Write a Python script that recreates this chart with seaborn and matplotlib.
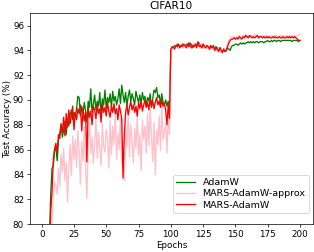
import numpy as np
import pandas as pd
import matplotlib
matplotlib.use("Agg")
import matplotlib.pyplot as plt
import seaborn as sns

epochs = list(range(1, 201))

adamw = [
    45.2, 58.7, 66.1, 71.5, 76.3, 79.1, 82.4, 84.5, 84.7, 85.9,
    86.2, 85.1, 86.8, 87.3, 88.1, 87.0, 87.6, 88.3, 87.2, 88.5,
    87.9, 88.8, 89.2, 88.4, 89.0, 88.6, 89.3, 90.3, 90.2, 88.7,
    89.5, 88.9, 89.8, 89.1, 88.2, 89.9, 89.4, 90.9, 89.0, 89.7,
    90.4, 89.2, 89.9, 89.5, 90.6, 88.8, 90.1, 89.6, 90.8, 89.3,
    90.2, 89.8, 90.5, 89.4, 90.7, 89.9, 90.3, 89.6, 90.1, 90.9,
    89.7, 91.2, 90.4, 89.8, 90.6, 89.5, 90.3, 90.8, 89.9, 90.5,
    90.1, 89.6, 90.7, 90.2, 89.8, 90.4, 89.7, 90.6, 90.0, 90.3,
    89.5, 90.2, 89.9, 90.5, 89.4, 90.1, 90.8, 90.6, 91.0, 90.2,
    90.4, 89.7, 90.5, 89.8, 89.6, 90.0, 89.5, 89.9, 89.3, 94.0,
    94.3, 94.2, 94.4, 94.3, 94.5, 94.2, 94.4, 94.3, 94.5, 94.4,
    94.3, 94.5, 94.4, 94.6, 94.3, 94.5, 94.2, 94.4, 94.3, 94.5,
    94.4, 94.6, 94.3, 94.2, 94.5, 94.3, 94.4, 94.2, 94.3, 94.1,
    94.3, 94.2, 94.4, 94.1, 94.3, 94.2, 94.0, 94.2, 94.1, 93.9,
    94.1, 93.9, 94.0, 94.2, 94.1, 94.0, 94.3, 94.4, 94.4, 94.5,
    94.5, 94.4, 94.5, 94.6, 94.5, 94.6, 94.5, 94.6, 94.6, 94.7,
    94.6, 94.7, 94.6, 94.7, 94.6, 94.7, 94.7, 94.6, 94.7, 94.7,
    94.7, 94.6, 94.7, 94.7, 94.8, 94.7, 94.7, 94.8, 94.7, 94.8,
    94.8, 94.7, 94.8, 94.8, 94.7, 94.8, 94.8, 94.8, 94.8, 94.8,
    94.8, 94.8, 94.8, 94.7, 94.8, 94.8, 94.8, 94.8, 94.7, 94.8,
]

mars_approx = [
    35.0, 50.1, 60.4, 68.2, 73.5, 77.1, 79.2, 80.4, 82.0, 83.4,
    83.1, 82.4, 84.5, 83.0, 85.6, 84.2, 86.1, 83.5, 85.0, 81.8,
    84.3, 86.4, 83.9, 87.1, 85.2, 86.8, 84.6, 87.5, 85.9, 83.2,
    86.7, 85.1, 87.8, 84.4, 82.1, 86.3, 88.2, 85.7, 87.0, 84.9,
    86.5, 88.6, 85.3, 87.4, 86.0, 84.7, 88.1, 86.2, 85.8, 87.6,
    86.9, 84.5, 88.3, 85.6, 87.9, 86.4, 89.1, 85.2, 87.3, 86.0,
    88.5, 84.8, 86.7, 83.5, 87.8, 86.2, 89.0, 85.4, 88.0, 86.6,
    84.9, 87.7, 86.1, 88.8, 85.5, 87.2, 84.3, 88.4, 86.8, 87.9,
    85.7, 88.9, 86.3, 89.3, 87.1, 85.0, 88.2, 84.0, 87.6, 86.4,
    88.7, 85.9, 89.5, 86.8, 87.4, 88.1, 85.7, 88.9, 87.2, 94.0,
    94.1, 94.3, 94.2, 94.4, 94.3, 94.2, 94.5, 94.3, 94.4, 94.2,
    94.5, 94.3, 94.4, 94.2, 94.5, 94.3, 94.4, 94.6, 94.3, 94.4,
    94.3, 94.5, 94.2, 94.4, 94.3, 94.1, 94.4, 94.2, 94.3, 94.0,
    94.2, 94.1, 94.3, 93.9, 94.1, 94.0, 94.2, 93.9, 94.1, 94.0,
    93.9, 94.1, 94.2, 94.5, 94.8, 95.0, 95.1, 95.0, 95.1, 95.0,
    95.1, 95.0, 95.2, 95.1, 95.0, 95.2, 95.1, 95.3, 95.1, 95.2,
    95.1, 95.2, 95.1, 95.2, 95.3, 95.1, 95.2, 95.1, 95.2, 95.1,
    95.2, 95.1, 95.2, 95.1, 95.2, 95.1, 95.1, 95.2, 95.1, 95.2,
    95.1, 95.2, 95.1, 95.1, 95.2, 95.1, 95.2, 95.1, 95.1, 95.2,
    95.1, 95.2, 95.1, 95.2, 95.1, 95.2, 95.1, 95.2, 95.2, 95.3,
]

mars = [
    40.5, 55.3, 64.8, 70.2, 75.9, 78.4, 81.0, 82.6, 85.2, 86.1,
    86.5, 85.8, 87.2, 86.9, 88.0, 87.4, 88.6, 87.1, 88.9, 87.8,
    89.2, 88.1, 88.7, 89.5, 87.6, 89.0, 88.4, 89.3, 88.9, 89.6,
    87.5, 89.2, 88.3, 89.0, 85.0, 89.4, 88.6, 89.1, 88.0, 89.5,
    89.2, 88.5, 89.6, 88.9, 89.3, 88.2, 89.7, 89.0, 89.4, 88.7,
    89.8, 89.1, 88.6, 89.5, 89.0, 89.7, 88.9, 89.3, 88.4, 89.6,
    89.1, 88.5, 83.7, 87.2, 89.0, 89.6, 88.8, 89.4, 89.9, 89.2,
    89.6, 89.0, 89.5, 88.7, 89.8, 89.3, 89.9, 89.1, 89.6, 90.0,
    89.4, 89.8, 89.2, 90.1, 89.5, 89.9, 89.3, 89.8, 90.2, 89.6,
    89.9, 89.4, 90.0, 89.5, 89.7, 89.2, 88.0, 89.6, 88.5, 94.1,
    94.2, 94.3, 94.1, 94.4, 94.3, 94.5, 94.2, 94.4, 94.3, 94.5,
    94.4, 94.2, 94.5, 94.3, 94.6, 94.2, 94.4, 94.3, 94.5, 94.2,
    94.7, 94.3, 94.4, 94.2, 94.5, 94.3, 94.2, 94.4, 94.3, 94.1,
    94.4, 94.2, 94.3, 94.0, 94.2, 94.1, 93.9, 94.2, 94.0, 93.8,
    94.1, 93.9, 94.0, 94.3, 94.6, 94.8, 94.9, 94.9, 95.0, 94.9,
    95.0, 94.9, 95.1, 95.0, 94.9, 95.1, 95.0, 95.2, 95.1, 95.0,
    95.2, 95.1, 95.0, 95.1, 95.0, 95.1, 95.2, 95.0, 95.1, 95.1,
    95.0, 95.1, 95.0, 95.1, 95.0, 95.1, 95.0, 95.0, 95.1, 95.0,
    95.1, 95.0, 95.0, 95.1, 95.0, 95.0, 95.1, 95.0, 95.0, 95.1,
    95.0, 95.1, 95.0, 95.1, 95.0, 95.1, 95.0, 94.9, 94.8, 94.8,
]

series_names = ["AdamW", "MARS-AdamW-approx", "MARS-AdamW"]
colors = ["green", "pink", "red"]

df = pd.concat([
    pd.DataFrame({"Epochs": epochs, "Accuracy": vals, "Method": name})
    for name, vals in zip(series_names, [adamw, mars_approx, mars])
], ignore_index=True)

fig, ax = plt.subplots(figsize=(314 / 63, 252 / 63), dpi=63)
fig.subplots_adjust(left=0.096, right=0.996, top=0.948, bottom=0.111)

sns.lineplot(data=df, x="Epochs", y="Accuracy", hue="Method",
             hue_order=series_names, palette=dict(zip(series_names, colors)),
             linewidth=1.5, ax=ax)

ax.set_ylim(80, 97)
ax.set_yticks([80, 82, 84, 86, 88, 90, 92, 94, 96])
ax.set_xticks([0, 25, 50, 75, 100, 125, 150, 175, 200])
ax.set_xlabel("Epochs", labelpad=2)
ax.set_ylabel("Test Accuracy (%)", labelpad=1)
ax.set_title("CIFAR10", pad=5)
ax.legend(loc="lower right", title=None, fontsize=10.8, labelspacing=0.25,
          bbox_to_anchor=(0.986, 0.052), borderaxespad=0, borderpad=0.35)

fig.savefig("out.png", dpi=63)
